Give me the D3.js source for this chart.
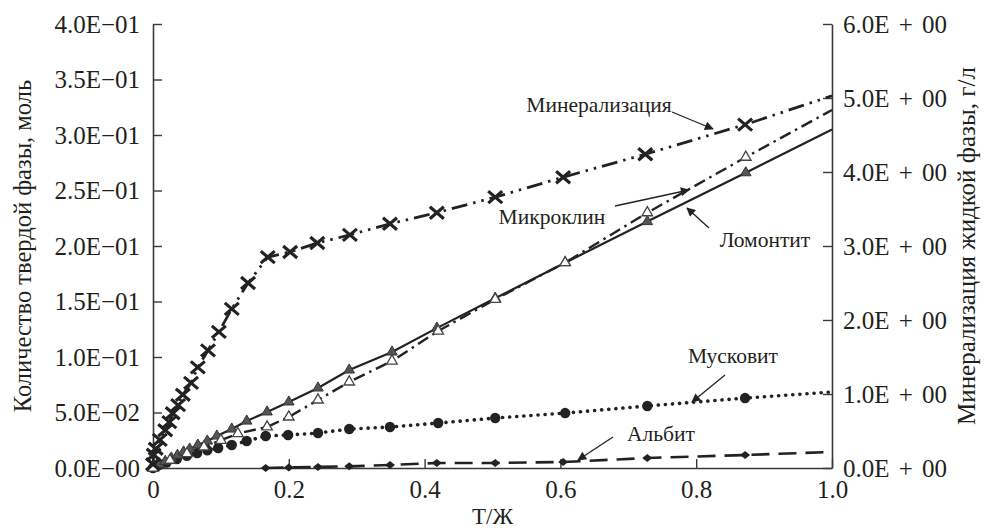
<!DOCTYPE html>
<html>
<head>
<meta charset="utf-8">
<script src="https://cdn.jsdelivr.net/npm/d3@7"></script>
<style>
  body { margin: 0; background: #fff; }
  text { font-family: "Liberation Serif", "Times New Roman", serif; fill: #231f20; }
</style>
</head>
<body>
<svg id="chart" width="984" height="531" font-family="Liberation Serif"></svg>
<script>
// axis ticks
const xTicks = [0, 0.2, 0.4, 0.6, 0.8, 1.0];
const xTickLabels = ["0", "0.2", "0.4", "0.6", "0.8", "1.0"];
const leftTicks = [0, 0.05, 0.1, 0.15, 0.2, 0.25, 0.3, 0.35, 0.4];
const leftTickLabels = ["0.0E−00", "5.0E−02", "1.0E−01", "1.5E−01", "2.0E−01", "2.5E−01", "3.0E−01", "3.5E−01", "4.0E−01"];
const rightTicks = [0, 1, 2, 3, 4, 5, 6];
const rightTickLabels = ["0.0E + 00", "1.0E + 00", "2.0E + 00", "3.0E + 00", "4.0E + 00", "5.0E + 00", "6.0E + 00"];

// Минерализация, г/л (right axis)
const mineralTZ = [0.0, 0.001, 0.004, 0.010, 0.018, 0.024, 0.029, 0.037, 0.044, 0.056, 0.066, 0.081, 0.097, 0.116, 0.140, 0.169, 0.202, 0.242, 0.290, 0.349, 0.418, 0.504, 0.604, 0.725, 0.872, 1.0];
const mineralValues = [0.05, 0.18, 0.26, 0.38, 0.51, 0.62, 0.74, 0.85, 0.99, 1.15, 1.36, 1.59, 1.84, 2.15, 2.50, 2.85, 2.92, 3.04, 3.15, 3.30, 3.45, 3.66, 3.93, 4.24, 4.64, 5.03];

// Ломонтит, моль (left axis)
const laumontiteTZ = [0.0, 0.009, 0.018, 0.027, 0.036, 0.045, 0.054, 0.066, 0.080, 0.094, 0.116, 0.138, 0.168, 0.200, 0.243, 0.289, 0.352, 0.418, 0.504, 0.607, 0.728, 0.873, 1.0];
const laumontiteValues = [0.0, 0.003, 0.006, 0.009, 0.0115, 0.0145, 0.0171, 0.0207, 0.0243, 0.0288, 0.0351, 0.0423, 0.0505, 0.0595, 0.0721, 0.0883, 0.1045, 0.126, 0.153, 0.185, 0.222, 0.266, 0.305];

// Микроклин
const microclineTZ = [0.0, 0.025, 0.05, 0.075, 0.10, 0.125, 0.168, 0.200, 0.243, 0.289, 0.352, 0.420, 0.504, 0.607, 0.728, 0.873, 1.0];
const microclineValues = [0.0, 0.007, 0.013, 0.019, 0.025, 0.031, 0.037, 0.046, 0.0613, 0.0775, 0.0964, 0.1234, 0.152, 0.185, 0.230, 0.280, 0.3225];

// Мусковит
const muscoviteTZ = [0.0, 0.01, 0.02, 0.035, 0.05, 0.065, 0.08, 0.096, 0.116, 0.138, 0.166, 0.199, 0.243, 0.289, 0.349, 0.420, 0.504, 0.607, 0.728, 0.872, 1.0];
const muscoviteValues = [0.0, 0.003, 0.005, 0.008, 0.011, 0.0135, 0.016, 0.018, 0.0207, 0.0243, 0.0288, 0.0297, 0.0315, 0.0351, 0.0369, 0.0405, 0.045, 0.0495, 0.0559, 0.063, 0.0685];

// Альбит
const albiteTZ = [0.166, 0.200, 0.243, 0.289, 0.349, 0.418, 0.504, 0.604, 0.728, 0.872, 1.0];
const albiteValues = [0.0, 0.0005, 0.001, 0.0015, 0.0027, 0.0045, 0.0045, 0.0054, 0.009, 0.0117, 0.0145];

const svg = d3.select("#chart");
const margin = { left: 153, right: 152, top: 24, bottom: 63 };
const width = 984, height = 531;

const x = d3.scaleLinear().domain([0, 1]).range([margin.left, width - margin.right]);
const yL = d3.scaleLinear().domain([0, 0.4]).range([height - margin.bottom, margin.top]);
const yR = d3.scaleLinear().domain([0, 6]).range([height - margin.bottom, margin.top]);

const axisColor = "#3a3a3a";

// axes
const gx = svg.append("g")
  .attr("transform", `translate(0,${height - margin.bottom})`)
  .call(d3.axisBottom(x).tickValues(xTicks).tickFormat((d, i) => xTickLabels[i]).tickSize(-9).tickSizeOuter(0).tickPadding(12));
const gl = svg.append("g")
  .attr("transform", `translate(${margin.left},0)`)
  .call(d3.axisLeft(yL).tickValues(leftTicks).tickFormat((d, i) => leftTickLabels[i]).tickSize(-9).tickSizeOuter(0).tickPadding(13));
const gr = svg.append("g")
  .attr("transform", `translate(${width - margin.right},0)`)
  .call(d3.axisRight(yR).tickValues(rightTicks).tickFormat((d, i) => rightTickLabels[i]).tickSize(-9).tickSizeOuter(0).tickPadding(11));

[gx, gl, gr].forEach(g => {
  g.attr("font-family", null).attr("font-size", null);
  g.select(".domain").attr("stroke", axisColor).attr("stroke-width", 1.6);
  g.selectAll(".tick line").attr("stroke", axisColor).attr("stroke-width", 1.4);
  g.selectAll(".tick text").attr("font-size", 25).attr("fill", "#231f20");
});
gr.selectAll(".tick text").style("word-spacing", "3px");

// axis titles
svg.append("text").attr("x", x(0.5)).attr("y", 524).attr("text-anchor", "middle")
  .attr("font-size", 23).text("Т/Ж");
svg.append("text").attr("transform", `translate(31,${(margin.top + height - margin.bottom) / 2}) rotate(-90)`)
  .attr("text-anchor", "middle").attr("font-size", 24.5).text("Количество твердой фазы, моль");
svg.append("text").attr("transform", `translate(975,${(margin.top + height - margin.bottom) / 2}) rotate(-90)`)
  .attr("text-anchor", "middle").attr("font-size", 25).text("Минерализация жидкой фазы, г/л");

function series(tz, vals, yScale) {
  return tz.map((t, i) => [x(t), yScale(vals[i])]);
}

const line = d3.line();
const dark = "#222";

function drawLine(pts, dash, w, cap) {
  svg.append("path").attr("d", line(pts)).attr("fill", "none")
    .attr("stroke", dark).attr("stroke-width", w)
    .attr("stroke-dasharray", dash).attr("stroke-linecap", cap || "butt");
}

const minPts = series(mineralTZ, mineralValues, yR);
const laumPts = series(laumontiteTZ, laumontiteValues, yL);
const micPts = series(microclineTZ, microclineValues, yL);
const musPts = series(muscoviteTZ, muscoviteValues, yL);
const albPts = series(albiteTZ, albiteValues, yL);

drawLine(albPts, "18,9", 2.6);
drawLine(musPts, "0.1,7", 3.6, "round");
drawLine(laumPts, null, 2.2);
drawLine(micPts, "12,5,2.5,5", 2.4);
drawLine(minPts, "16,6,2.5,6,2.5,6", 2.8);

const inner = p => p[0] < x(1) - 1;

// markers
svg.append("g").selectAll("path").data(albPts.filter(inner)).join("path")
  .attr("d", d => `M${d[0] - 5},${d[1]}L${d[0]},${d[1] - 4}L${d[0] + 5},${d[1]}L${d[0]},${d[1] + 4}Z`)
  .attr("fill", dark);
svg.append("g").selectAll("circle").data(musPts.filter(inner)).join("circle")
  .attr("cx", d => d[0]).attr("cy", d => d[1]).attr("r", 5.2).attr("fill", dark);
const tri = d3.symbol().type(d3.symbolTriangle).size(48);
svg.append("g").selectAll("path").data(laumPts.filter(inner)).join("path")
  .attr("transform", d => `translate(${d[0]},${d[1]})`).attr("d", tri)
  .attr("fill", "#555").attr("stroke", "#333").attr("stroke-width", 1);
svg.append("g").selectAll("path").data(micPts.filter(inner)).join("path")
  .attr("transform", d => `translate(${d[0]},${d[1]})`).attr("d", tri)
  .attr("fill", "#fff").attr("stroke", "#444").attr("stroke-width", 1.3);
svg.append("g").selectAll("path").data(minPts.filter(inner)).join("path")
  .attr("transform", d => `translate(${d[0]},${d[1]})`)
  .attr("d", "M-7,-6L7,6M-7,6L7,-6")
  .attr("stroke", dark).attr("stroke-width", 3.2).attr("fill", "none");

// annotations with arrows
svg.append("defs").append("marker").attr("id", "arr")
  .attr("viewBox", "0 0 10 10").attr("refX", 9).attr("refY", 5)
  .attr("markerWidth", 13).attr("markerHeight", 9).attr("markerUnits", "userSpaceOnUse")
  .attr("orient", "auto")
  .append("path").attr("d", "M0,0L10,5L0,10Z").attr("fill", dark);

const notes = [
  { text: "Минерализация", tx: 599, ty: 112, from: [672, 112], to: [713, 129] },
  { text: "Микроклин", tx: 552, ty: 224, from: [615, 206], to: [689, 190] },
  { text: "Ломонтит", tx: 765, ty: 247, from: [709, 228], to: [687, 208] },
  { text: "Мусковит", tx: 733, ty: 363, from: [725, 375], to: [692, 402] },
  { text: "Альбит", tx: 661, ty: 441, from: [613, 437], to: [578, 460] }
];
notes.forEach(n => {
  svg.append("text").attr("x", n.tx).attr("y", n.ty).attr("text-anchor", "middle")
    .attr("font-size", 21.5).text(n.text);
  svg.append("line").attr("x1", n.from[0]).attr("y1", n.from[1])
    .attr("x2", n.to[0]).attr("y2", n.to[1])
    .attr("stroke", dark).attr("stroke-width", 1.3).attr("marker-end", "url(#arr)");
});
</script>
</body>
</html>
